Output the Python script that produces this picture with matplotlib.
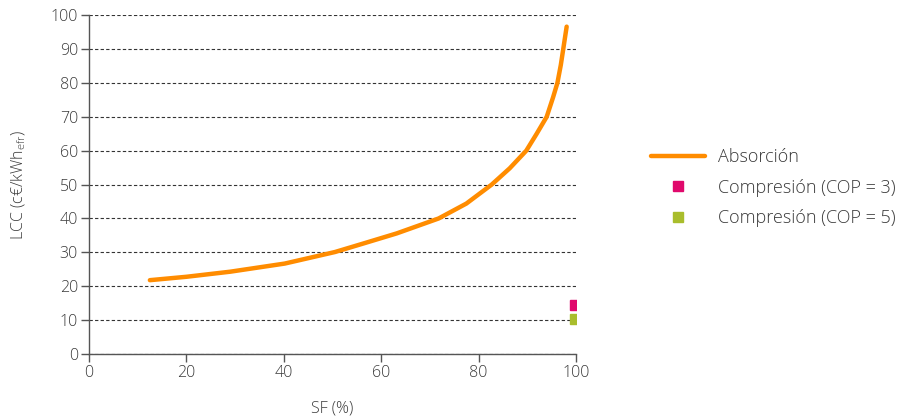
import numpy as np
import matplotlib.pyplot as plt

plt.rcParams['font.family'] = ['Open Sans', 'DejaVu Sans']

# curve
sf_abs = [12.5, 20, 29, 40.2, 50.5, 56.3, 63.2, 71.8, 77.5, 82.7, 86.4, 89.8, 91.9, 94.0, 95.3, 96.2, 96.9, 97.4, 98.1]
lcc_abs = [21.8, 22.8, 24.3, 26.7, 30.1, 32.6, 35.6, 40, 44.4, 50, 54.8, 60, 64.9, 70, 75.7, 80, 85.3, 90, 96.6]

sf_cop3 = [99.8]
lcc_cop3 = [14.5]
sf_cop5 = [99.8]
lcc_cop5 = [10.3]

txt = '#3a3a3a'
fig = plt.figure(figsize=(9, 4.2), dpi=100)
ax = fig.add_axes([0.0989, 0.157, 0.541, 0.807])

ax.plot(sf_abs, lcc_abs, color='#ff8c00', lw=3.2, solid_capstyle='round',
        solid_joinstyle='round', label='Absorción', zorder=3)
ax.plot(sf_cop3, lcc_cop3, ls='none', marker='s', ms=6.5, color='#e0096c', label='Compresión (COP = 3)', zorder=4)
ax.plot(sf_cop5, lcc_cop5, ls='none', marker='s', ms=6.5, color='#a9bd2c', label='Compresión (COP = 5)', zorder=4)

ax.set_xlim(0, 100)
ax.set_ylim(0, 100)
ax.set_xticks(np.arange(0, 101, 20))
ax.set_yticks(np.arange(0, 101, 10))
ax.yaxis.grid(True, ls=(0, (3, 2)), color='#333333', lw=0.8)
ax.set_axisbelow(True)
for s in ['top', 'right']:
    ax.spines[s].set_visible(False)
for s in ['left', 'bottom']:
    ax.spines[s].set_color('#555555')
    ax.spines[s].set_linewidth(1.0)
ax.tick_params(direction='out', length=6, width=1, color='#555555', labelcolor=txt, labelsize=11.5, pad=2)
for lab in ax.get_xticklabels() + ax.get_yticklabels():
    lab.set_fontweight('light')

ax.set_xlabel('SF (%)', fontsize=11.5, color=txt, labelpad=14, fontweight='light')
ax.set_ylabel('LCC (c€/kWh$_\\mathregular{efr}$)', fontsize=11.5, color=txt, labelpad=16, fontweight='light')

leg = fig.legend(loc='center left', bbox_to_anchor=(0.705, 0.553), frameon=False,
                 handlelength=3.0, handletextpad=0.7, labelspacing=0.7,
                 labelcolor=txt, prop={'weight': 'light', 'size': 13})

fig.savefig('out.png', dpi=100)
